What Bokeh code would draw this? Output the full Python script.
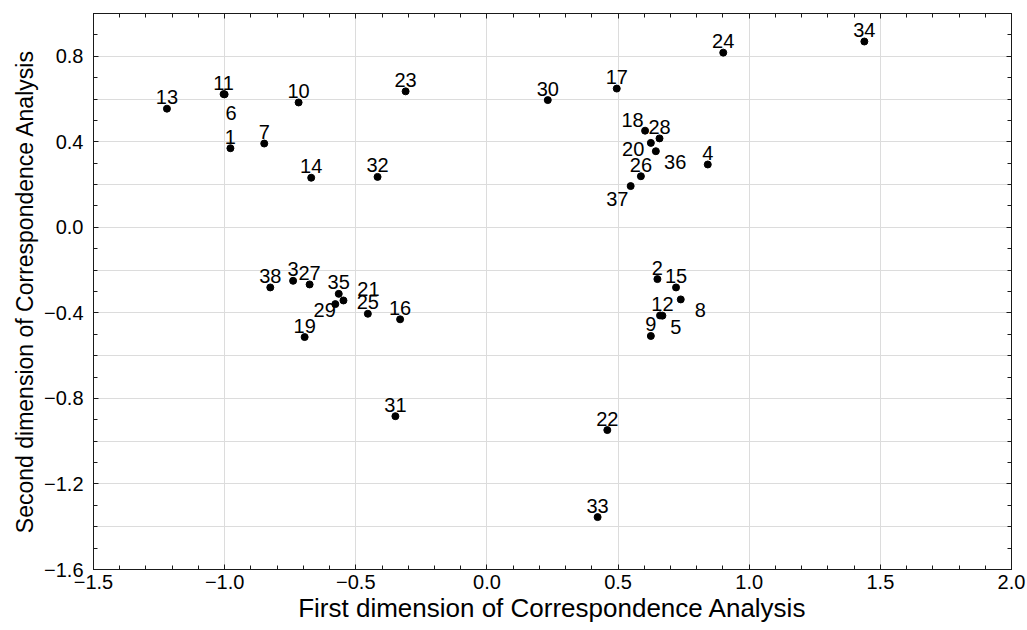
from bokeh.plotting import figure
from bokeh.models import Range1d, FixedTicker, LinearAxis, ColumnDataSource, CustomJSTickFormatter
from bokeh.embed import file_html
from bokeh.resources import INLINE
from bokeh.core.properties import value

# ---- data ----
ids = [str(i) for i in range(1, 39)]
dim1 = [-0.978, 0.650, -0.739, 0.842, 0.660, -1.000, -0.849, 0.739, 0.625, -0.718,
        -1.004, 0.669, -1.220, -0.670, 0.721, -0.331, 0.495, 0.603, -0.695, 0.625,
        -0.547, 0.459, -0.310, 0.901, -0.454, 0.587, -0.676, 0.658, -0.578, 0.232,
        -0.349, -0.417, 0.422, 1.439, -0.565, 0.644, 0.548, -0.826]
dim2 = [0.370, -0.242, -0.250, 0.294, -0.412, 0.622, 0.392, -0.337, -0.508, 0.584,
        0.623, -0.413, 0.555, 0.232, -0.281, -0.430, 0.649, 0.452, -0.513, 0.395,
        -0.342, -0.948, 0.636, 0.817, -0.404, 0.239, -0.267, 0.416, -0.359, 0.595,
        -0.883, 0.236, -1.355, 0.869, -0.311, 0.356, 0.193, -0.281]

x_ticks = [-1.5, -1.0, -0.5, 0.0, 0.5, 1.0, 1.5, 2.0]
y_ticks = [-1.6, -1.2, -0.8, -0.4, 0.0, 0.4, 0.8]
y_grid = [-1.4, -1.2, -1.0, -0.8, -0.6, -0.4, -0.2, 0.0, 0.2, 0.4, 0.6, 0.8]
x_minor = [round(-1.5 + 0.1 * i, 1) for i in range(36)]
y_minor = [round(-1.6 + 0.1 * i, 1) for i in range(27)]

# ---- label placement (screen px offsets of label centre, layout only) ----
label_shift = {"18": (-12.5, -4), "20": (-17.7, 12.7), "36": (19.3, 17.6), "37": (-13.4, 19.3),
               "8": (19.6, 16.7), "5": (15.7, 18.3), "21": (25, -4.6), "29": (-10.7, 12),
               "6": (6.5, 25)}
CAP_HALF = 6.5
dx = [label_shift.get(k, (0, -5))[0] for k in ids]
dy = [label_shift.get(k, (0, -5))[1] - CAP_HALF for k in ids]

src = ColumnDataSource(dict(x=dim1, y=dim2, id=ids, dx=dx, dy=dy))

FONT = "Liberation Sans"
INK = "#1a1a1a"

p = figure(width=1027, height=630, x_range=Range1d(-1.5, 2.0), y_range=Range1d(-1.6, 1.0),
           output_backend="svg", toolbar_location=None,
           min_border_left=93, min_border_right=16, min_border_top=13, min_border_bottom=61)
p.background_fill_color = "white"
p.border_fill_color = "white"
p.outline_line_color = INK
p.outline_line_width = 1

fmt = CustomJSTickFormatter(code="return tick.toFixed(1).replace('-', '\\u2212');")

xt = FixedTicker(ticks=x_ticks, minor_ticks=x_minor)
yt = FixedTicker(ticks=y_ticks, minor_ticks=y_minor)

p.xaxis.ticker = xt
p.yaxis.ticker = yt
p.xgrid.ticker = FixedTicker(ticks=x_ticks)
p.ygrid.ticker = FixedTicker(ticks=y_grid)
p.grid.grid_line_color = "#dcdcdc"
p.grid.grid_line_width = 1

for ax in (p.xaxis[0], p.yaxis[0]):
    ax.formatter = fmt
    ax.major_tick_in = 5
    ax.major_tick_out = 0
    ax.minor_tick_in = 4
    ax.minor_tick_out = 0
    ax.major_tick_line_color = INK
    ax.minor_tick_line_color = INK
    ax.axis_line_color = INK
    ax.major_label_text_font = FONT
    ax.major_label_text_font_size = "20px"
    ax.major_label_text_color = "black"
    ax.axis_label_text_font = FONT
    ax.axis_label_text_font_style = "normal"
    ax.axis_label_text_color = "black"

p.xaxis.axis_label = "First dimension of Correspondence Analysis"
p.yaxis.axis_label = "Second dimension of Correspondence Analysis"
p.xaxis.axis_label_text_font_size = "26px"
p.yaxis.axis_label_text_font_size = "23px"
p.xaxis.major_label_standoff = 5
p.xaxis.axis_label_standoff = 1
p.yaxis.major_label_standoff = 10
p.yaxis.axis_label_standoff = 3

# tick-only frame axes on top and right (no labels drawn)
for loc, tk in (("above", xt), ("right", yt)):
    ax = LinearAxis(ticker=tk)
    ax.major_label_text_font_size = "0px"
    ax.major_label_text_color = None
    ax.major_label_standoff = 0
    ax.major_tick_in = 5
    ax.major_tick_out = 0
    ax.minor_tick_in = 4
    ax.minor_tick_out = 0
    ax.major_tick_line_color = INK
    ax.minor_tick_line_color = INK
    ax.axis_line_color = INK
    p.add_layout(ax, loc)

p.scatter("x", "y", source=src, size=7, color="black")
p.text("x", "y", text="id", source=src, x_offset="dx", y_offset="dy",
       text_align="center", text_baseline="middle",
       text_font=value(FONT), text_font_size="20px", text_color="black")

open("out.html", "w").write(file_html(p, INLINE))
